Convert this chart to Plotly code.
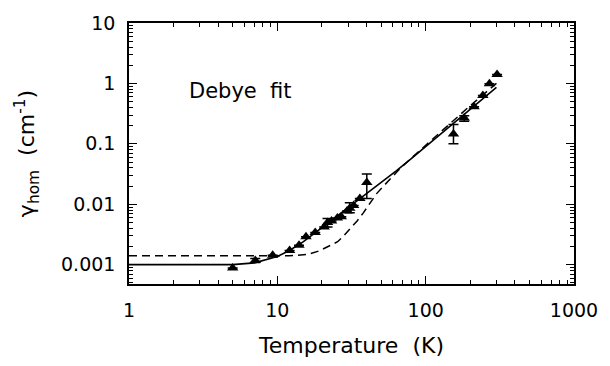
import plotly.graph_objects as go

# Measured data points
temp_pts = [5.0, 7.1, 9.3, 12.1, 14.0, 15.6, 18.0, 20.7, 21.8, 23.2, 25.4, 27.0,
            29.5, 30.8, 32.7, 36.0, 40.1, 154, 182, 212, 243, 269, 303]
gamma_pts = [0.00088, 0.00117, 0.00143, 0.00171, 0.0021, 0.0029, 0.0034, 0.0042,
             0.0050, 0.0053, 0.0059, 0.0062, 0.0077, 0.0086, 0.0095, 0.0125, 0.023,
             0.145, 0.267, 0.41, 0.63, 0.99, 1.40]
err_plus = [0, 0.0001, 0, 0, 0, 0, 0, 0, 0.0008, 0, 0, 0, 0, 0.0020, 0, 0, 0.0088,
            0.064, 0.025, 0, 0, 0, 0]
err_minus = [0, 0.00008, 0, 0, 0, 0, 0, 0, 0.0008, 0, 0, 0, 0, 0.0014, 0, 0, 0.0105,
             0.045, 0.03, 0, 0, 0, 0]

# Solid fit curve
solid_t = [1, 5, 7, 10, 12, 15, 20, 25, 30, 40, 50, 63, 80, 100, 150, 200, 300]
solid_g = [0.0010, 0.0010, 0.00107, 0.00137, 0.0017, 0.0024, 0.0041, 0.0062, 0.0088,
           0.015, 0.023, 0.0353, 0.057, 0.090, 0.209, 0.38, 0.86]

# Dashed fit curve
dashed_t = [1, 12, 16, 19, 22, 25.5, 28, 31, 34.5, 38, 42, 46.7, 53, 60, 66.5, 80,
            100, 150, 200, 300]
dashed_g = [0.0014, 0.0014, 0.00148, 0.00168, 0.0020, 0.0024, 0.0030, 0.0039, 0.0053,
            0.0072, 0.0102, 0.015, 0.021, 0.029, 0.038, 0.058, 0.095, 0.23, 0.43, 1.0]

font_family = "DejaVu Sans, Arial, sans-serif"

fig = go.Figure()
fig.add_trace(go.Scatter(x=dashed_t, y=dashed_g, mode="lines",
                         line=dict(color="black", width=1.5, dash="8px,5px"),
                         showlegend=False))
fig.add_trace(go.Scatter(x=solid_t, y=solid_g, mode="lines",
                         line=dict(color="black", width=1.6),
                         showlegend=False))
fig.add_trace(go.Scatter(x=temp_pts, y=gamma_pts, mode="markers",
                         marker=dict(symbol="triangle-up", size=10, color="black"),
                         error_y=dict(type="data", symmetric=False, array=err_plus,
                                      arrayminus=err_minus, color="black",
                                      thickness=1.5, width=5),
                         showlegend=False))

fig.add_annotation(x=0.391, y=-0.126, xref="x", yref="y", text="Debye  fit",
                   showarrow=False, xanchor="left", yanchor="middle",
                   font=dict(size=21, color="black", family=font_family))

axis_common = dict(
    type="log", showgrid=False, zeroline=False, showline=True, linecolor="black",
    linewidth=1.5, mirror="allticks", ticks="inside", ticklen=8, tickwidth=1.2,
    tickcolor="black", dtick=1, exponentformat="none",
    minor=dict(ticks="inside", ticklen=4, tickwidth=1, tickcolor="black",
               dtick="D1", showgrid=False),
    tickfont=dict(size=19, color="black", family=font_family),
)

fig.update_xaxes(**axis_common, range=[0, 3], ticklabelstandoff=8,
                 title=dict(text="Temperature  (K)", standoff=18,
                            font=dict(size=22, color="black", family=font_family)))
fig.update_yaxes(**axis_common, range=[-3.32, 1.0], ticklabelstandoff=8,
                 title=dict(text="γ<sub>hom</sub>  (cm<sup>-1</sup>)", standoff=20,
                            font=dict(size=22, color="black", family=font_family)))

fig.update_layout(width=610, height=366, margin=dict(l=129, r=29, t=16, b=79),
                  paper_bgcolor="white", plot_bgcolor="white")

fig.write_html("out.html")
